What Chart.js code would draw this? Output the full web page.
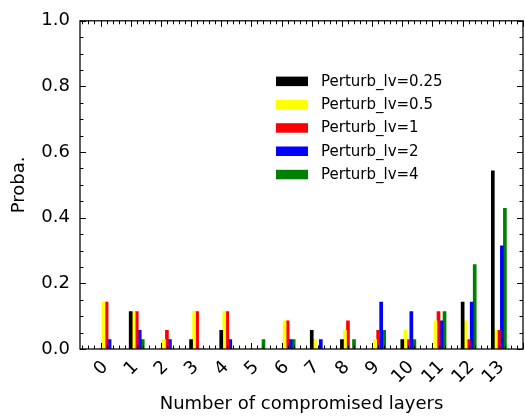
<!DOCTYPE html>
<html>
<head>
<meta charset="utf-8">
<script src="https://cdn.jsdelivr.net/npm/chart.js@4.4.1/dist/chart.umd.min.js"></script>
<style>
    html, body { margin: 0; padding: 0; background: #fff; }
    #wrap { width: 525px; height: 418px; }
</style>
</head>
<body>
<div id="wrap"><canvas id="layersChart" width="525" height="418"></canvas></div>
<script>
// Probability of the number of compromised layers, per perturbation level
const LAYERS = [0, 1, 2, 3, 4, 5, 6, 7, 8, 9, 10, 11, 12, 13];
const LEVELS = ['Perturb_lv=0.25', 'Perturb_lv=0.5', 'Perturb_lv=1', 'Perturb_lv=2', 'Perturb_lv=4'];
const PROBA_LV025 = [0, 0.1143, 0, 0.0286, 0.0571, 0, 0, 0.0571, 0.0286, 0, 0.0286, 0, 0.1429, 0.5429];
const PROBA_LV05  = [0.1429, 0.1143, 0.0286, 0.1143, 0.1143, 0, 0.0857, 0.0286, 0.0571, 0.0286, 0.0571, 0.0857, 0.0857, 0.0571];
const PROBA_LV1   = [0.1429, 0.1143, 0.0571, 0.1143, 0.1143, 0, 0.0857, 0, 0.0857, 0.0571, 0.0286, 0.1143, 0.0286, 0.0571];
const PROBA_LV2   = [0.0286, 0.0571, 0.0286, 0, 0.0286, 0, 0.0286, 0.0286, 0, 0.1429, 0.1143, 0.0857, 0.1429, 0.3143];
const PROBA_LV4   = [0, 0.0286, 0, 0, 0, 0.0286, 0.0286, 0, 0.0286, 0.0571, 0.0286, 0.1143, 0.2571, 0.4286];
const Y_TICKS = [0, 0.2, 0.4, 0.6, 0.8, 1.0];

const SERIES = [PROBA_LV025, PROBA_LV05, PROBA_LV1, PROBA_LV2, PROBA_LV4];
const COLORS = ['#000000', '#ffff00', '#ff0000', '#0000ff', '#008000'];
const BAR_WIDTH = 0.1;   // each level shifted by one bar width, like x + i*w
const FONT = 'DejaVu Sans';

// inward ticks on all four sides plus the box
const frameTicks = {
    id: 'frameTicks',
    afterDatasetsDraw(chart) {
        const { ctx, chartArea: a, scales: { x, y } } = chart;
        const seg = (x1, y1, x2, y2) => { ctx.beginPath(); ctx.moveTo(x1, y1); ctx.lineTo(x2, y2); ctx.stroke(); };
        ctx.save();
        ctx.strokeStyle = '#000';
        ctx.lineWidth = 1;
        for (let i = 0; i <= 20; i++) {
            const py = Math.round(y.getPixelForValue(i * 0.05)) + 0.5;
            const len = i % 4 === 0 ? 6 : 3.5;
            seg(a.left, py, a.left + len, py);
            seg(a.right, py, a.right - len, py);
        }
        for (let i = Math.ceil(x.min / 0.2); i * 0.2 <= x.max + 1e-9; i++) {
            const px = Math.round(x.getPixelForValue(i * 0.2)) + 0.5;
            const len = i % 5 === 0 ? 6 : 3.5;
            seg(px, a.bottom, px, a.bottom - len);
            seg(px, a.top, px, a.top + len);
        }
        ctx.lineWidth = 1.25;
        ctx.strokeRect(a.left, a.top, a.right - a.left, a.bottom - a.top);
        ctx.restore();
    },
    afterDraw(chart) {
        const { ctx, chartArea: a, scales: { x } } = chart;
        ctx.save();
        // rotated layer labels, centred under each tick
        ctx.font = '18px "' + FONT + '"';
        ctx.fillStyle = '#000';
        ctx.textAlign = 'center';
        ctx.textBaseline = 'middle';
        const capH = 13;
        LAYERS.forEach(l => {
            const label = String(l);
            const w = ctx.measureText(label).width;
            const box = (w + capH) * Math.SQRT1_2;
            const cx = x.getPixelForValue(l);
            const cy = a.bottom + 10 + box / 2;
            ctx.save();
            ctx.translate(cx, cy);
            ctx.rotate(-Math.PI / 4);
            ctx.fillText(label, 0, 1);
            ctx.restore();
        });
        // legend block inside the plot
        ctx.font = '15px "' + FONT + '"';
        ctx.textAlign = 'left';
        LEVELS.forEach((name, i) => {
            const rowY = 81.3 + i * 23.3;
            ctx.fillStyle = COLORS[i];
            ctx.fillRect(276, rowY - 4.7, 32, 9.5);
            ctx.fillStyle = '#000';
            ctx.fillText(name, 321, rowY + 0.5);
        });
        ctx.restore();
    }
};

const datasets = SERIES.map((vals, i) => ({
    label: LEVELS[i],
    data: LAYERS.map((l, j) => ({ x: l + i * BAR_WIDTH, y: vals[j] })),
    backgroundColor: COLORS[i],
    borderWidth: 0,
    grouped: false,
    categoryPercentage: 1,
    barPercentage: 1
}));

new Chart(document.getElementById('layersChart'), {
    type: 'bar',
    data: { datasets },
    options: {
        responsive: false,
        animation: false,
        devicePixelRatio: 1,
        layout: { padding: { top: 18, right: 2, left: 0, bottom: 0 } },
        plugins: { legend: { display: false }, tooltip: { enabled: false } },
        scales: {
            x: {
                type: 'linear',
                min: -0.68,
                max: 14.0,
                offset: false,
                ticks: { display: false },
                grid: { display: false, drawTicks: false },
                border: { display: false },
                title: {
                    display: true,
                    text: 'Number of compromised layers',
                    color: '#000',
                    font: { family: FONT, size: 18 },
                    padding: { top: 0, bottom: 3 }
                },
                afterFit: s => { s.height = 69; }
            },
            y: {
                min: 0,
                max: 1,
                afterBuildTicks: s => { s.ticks = Y_TICKS.map(v => ({ value: v })); },
                ticks: {
                    padding: 10,
                    color: '#000',
                    font: { family: FONT, size: 18 },
                    callback: v => v.toFixed(1)
                },
                grid: { display: false, drawTicks: false },
                border: { display: false },
                title: {
                    display: true,
                    text: 'Proba.',
                    color: '#000',
                    font: { family: FONT, size: 18 },
                    padding: { top: 9, bottom: 0 }
                },
                afterFit: s => { s.width = 80; }
            }
        }
    },
    plugins: [frameTicks]
});
</script>
</body>
</html>
